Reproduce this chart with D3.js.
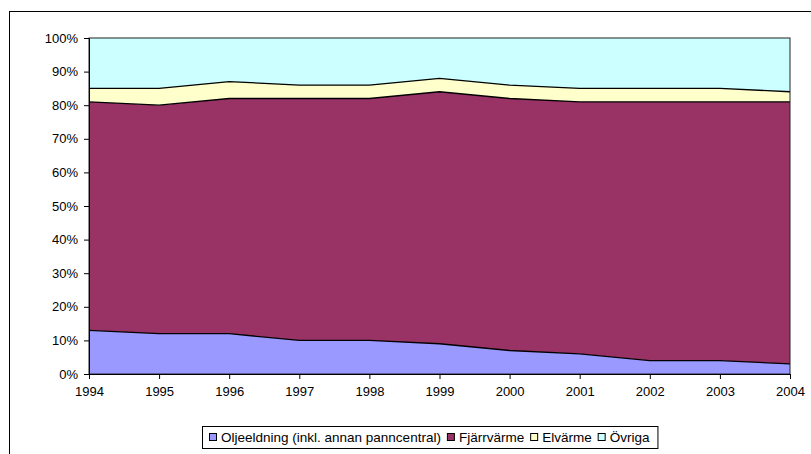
<!DOCTYPE html>
<html>
<head>
<meta charset="utf-8">
<script src="https://cdn.jsdelivr.net/npm/d3@7"></script>
<style>
  body { margin: 0; background: #fff; }
  svg { display: block; font-family: "Liberation Sans", Arial, sans-serif; }
</style>
</head>
<body>
<svg id="chart" width="811" height="454"></svg>
<script>
// data (percent of total)
var years = [1994, 1995, 1996, 1997, 1998, 1999, 2000, 2001, 2002, 2003, 2004];
var oljeeldning = [13, 12, 12, 10, 10, 9, 7, 6, 4, 4, 3];
var fjarrvarme  = [68, 68, 70, 72, 72, 75, 75, 75, 77, 77, 78];
var elvarme     = [4, 5, 5, 4, 4, 4, 4, 4, 4, 4, 3];
var ovriga      = [15, 15, 13, 14, 14, 12, 14, 15, 15, 15, 16];
var yTicks = [0, 10, 20, 30, 40, 50, 60, 70, 80, 90, 100];

var seriesNames = ["Oljeeldning (inkl. annan panncentral)", "Fjärrvärme", "Elvärme", "Övriga"];
var seriesKeys = ["olje", "fjarr", "el", "ovr"];
var colors = ["#9999ff", "#993366", "#ffffcc", "#ccffff"];

var rows = years.map(function (y, i) {
  return { year: y, olje: oljeeldning[i], fjarr: fjarrvarme[i], el: elvarme[i], ovr: ovriga[i] };
});

var svg = d3.select("#chart");

// outer chart frame (runs off the right and bottom edges)
svg.append("rect")
  .attr("x", 9.5).attr("y", 11.5)
  .attr("width", 820).attr("height", 460)
  .attr("fill", "#fff").attr("stroke", "#000").attr("stroke-width", 1);

var m = { left: 89, top: 38, right: 790, bottom: 374 };

var x = d3.scaleLinear().domain([1994, 2004]).range([m.left, m.right]);
var y = d3.scaleLinear().domain([0, 100]).range([m.bottom, m.top]);

var stack = d3.stack().keys(seriesKeys);
var layers = stack(rows);

var area = d3.area()
  .x(function (d) { return x(d.data.year); })
  .y0(function (d) { return y(d[0]); })
  .y1(function (d) { return y(d[1]); });

var line = d3.line()
  .x(function (d) { return x(d.data.year); })
  .y(function (d) { return y(d[1]); });

svg.selectAll(".layer")
  .data(layers).enter()
  .append("path")
  .attr("class", "layer")
  .attr("d", area)
  .attr("fill", function (d, i) { return colors[i]; });

// boundary lines between layers
svg.selectAll(".edge")
  .data(layers.slice(0, 3)).enter()
  .append("path")
  .attr("class", "edge")
  .attr("d", line)
  .attr("fill", "none")
  .attr("stroke", "#000")
  .attr("stroke-width", 1.3);

// plot border
svg.append("rect")
  .attr("x", m.left).attr("y", m.top)
  .attr("width", m.right - m.left).attr("height", m.bottom - m.top)
  .attr("fill", "none").attr("stroke", "#222").attr("stroke-width", 1);

// y axis
var yAxis = d3.axisLeft(y)
  .tickValues(yTicks)
  .tickSize(5)
  .tickPadding(6)
  .tickFormat(function (d) { return d + "%"; });

var gy = svg.append("g")
  .attr("transform", "translate(" + m.left + ",0)")
  .call(yAxis);

// x axis
var xAxis = d3.axisBottom(x)
  .tickValues(years)
  .tickSize(5)
  .tickPadding(8)
  .tickFormat(d3.format("d"));

var gx = svg.append("g")
  .attr("transform", "translate(0," + m.bottom + ")")
  .call(xAxis);

[gx, gy].forEach(function (g) {
  g.select(".domain").attr("stroke", "#000");
  g.selectAll(".tick line").attr("stroke", "#000");
  g.selectAll(".tick text")
    .attr("fill", "#000")
    .style("font-family", "'Liberation Sans', Arial, sans-serif")
    .style("font-size", "13px");
});

// legend
var legend = svg.append("g");
var ly = 426, lh = 22;
var box = legend.append("rect")
  .attr("y", ly + 0.5).attr("height", lh)
  .attr("fill", "#fff").attr("stroke", "#000");

var itemX = 7;
var items = legend.append("g");
seriesNames.forEach(function (name, i) {
  var item = items.append("g").attr("transform", "translate(" + itemX + "," + (ly + lh / 2) + ")");
  item.append("rect")
    .attr("x", 0.5).attr("y", -3.5)
    .attr("width", 7).attr("height", 7)
    .attr("fill", colors[i]).attr("stroke", "#000");
  var t = item.append("text")
    .attr("x", 12).attr("y", 5)
    .style("font-size", "13.5px")
    .attr("fill", "#000")
    .text(name);
  itemX += 12 + t.node().getComputedTextLength() + 6;
});
var lw = itemX + 2;
var lx = Math.round(430 - lw / 2);
box.attr("x", lx + 0.5).attr("width", lw);
items.attr("transform", "translate(" + lx + ",0)");
</script>
</body>
</html>
